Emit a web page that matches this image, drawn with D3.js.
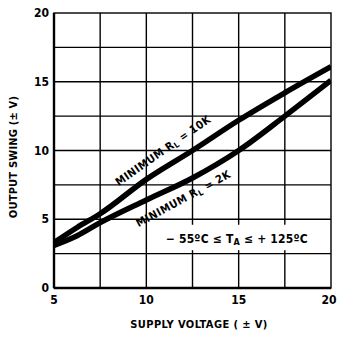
<!DOCTYPE html>
<html>
<head>
<meta charset="utf-8">
<script src="https://cdn.jsdelivr.net/npm/d3@7"></script>
<style>
  body { margin: 0; background: #fff; }
  svg text {
    font-family: "DejaVu Sans", sans-serif;
    font-stretch: condensed;
    font-weight: bold;
    fill: #000;
  }
</style>
</head>
<body>
<div id="chart"></div>
<script>

// data
var supplyV  = [5, 6.25, 7.5, 10, 12.5, 15, 17.5, 20];
var swing10K = [3.3, 4.4, 5.4, 7.9, 10.0, 12.2, 14.2, 16.1];
var swing2K  = [3.1, 3.8, 4.75, 6.4, 8.0, 10.0, 12.5, 15.1];

var xTicks = [5, 10, 15, 20];
var yTicks = [0, 5, 10, 15, 20];
var xGrid = [7.5, 10, 12.5, 15, 17.5];
var yGrid = [2.5, 5, 7.5, 10, 12.5, 15, 17.5];

var margin = { top: 13, right: 6, bottom: 49, left: 54 };
var width = 337 - margin.left - margin.right;
var height = 337 - margin.top - margin.bottom;

var svg = d3.select("#chart").append("svg")
    .attr("width", 337)
    .attr("height", 337);

var g = svg.append("g")
    .attr("transform", "translate(" + margin.left + "," + margin.top + ")");

var x = d3.scaleLinear().domain([5, 20]).range([0, width]);
var y = d3.scaleLinear().domain([0, 20]).range([height, 0]);

// grid
g.selectAll(".vgrid").data(xGrid).enter().append("line")
    .attr("x1", function(d) { return x(d); })
    .attr("x2", function(d) { return x(d); })
    .attr("y1", 0).attr("y2", height)
    .attr("stroke", "#000").attr("stroke-width", 1.4);

g.selectAll(".hgrid").data(yGrid).enter().append("line")
    .attr("x1", 0).attr("x2", width)
    .attr("y1", function(d) { return y(d); })
    .attr("y2", function(d) { return y(d); })
    .attr("stroke", "#000").attr("stroke-width", 1.4);

// white box behind the temperature note
g.append("rect")
    .attr("x", x(10.8)).attr("y", y(4.6))
    .attr("width", x(19.5) - x(10.8))
    .attr("height", y(2.75) - y(4.6))
    .attr("fill", "#fff");

// frame
g.append("rect")
    .attr("x", 0).attr("y", 0)
    .attr("width", width).attr("height", height)
    .attr("fill", "none").attr("stroke", "#000").attr("stroke-width", 1.4);

g.append("line").attr("x1", 0).attr("x2", 0).attr("y1", 0).attr("y2", height)
    .attr("stroke", "#000").attr("stroke-width", 2.4);
g.append("line").attr("x1", 0).attr("x2", width).attr("y1", height).attr("y2", height)
    .attr("stroke", "#000").attr("stroke-width", 2.4);

// curves
g.append("clipPath").attr("id", "clip")
    .append("rect").attr("width", width).attr("height", height);

var line = d3.line()
    .x(function(d) { return x(d[0]); })
    .y(function(d) { return y(d[1]); })
    .curve(d3.curveMonotoneX);

[swing10K, swing2K].forEach(function(s) {
    g.append("path")
        .datum(supplyV.map(function(v, i) { return [v, s[i]]; }))
        .attr("clip-path", "url(#clip)")
        .attr("d", line)
        .attr("fill", "none")
        .attr("stroke", "#000")
        .attr("stroke-width", 5.5);
});

// tick labels
g.selectAll(".xt").data(xTicks).enter().append("text")
    .attr("x", function(d) { return Math.min(x(d), width - 2); })
    .attr("y", height + 16)
    .attr("text-anchor", "middle")
    .style("font-size", "12px")
    .text(function(d) { return d; });

g.selectAll(".yt").data(yTicks).enter().append("text")
    .attr("x", -5)
    .attr("y", function(d) { return y(d) + 4; })
    .attr("text-anchor", "end")
    .style("font-size", "12px")
    .text(function(d) { return d; });

// axis titles
svg.append("text")
    .attr("x", 199).attr("y", 328)
    .attr("text-anchor", "middle")
    .style("font-size", "11px")
    .style("letter-spacing", "0.4px")
    .text("SUPPLY VOLTAGE ( \u00b1 V)");

svg.append("text")
    .attr("transform", "translate(17,157) rotate(-90)")
    .attr("text-anchor", "middle")
    .style("font-size", "11px")
    .style("letter-spacing", "0.2px")
    .text("OUTPUT SWING (\u00b1 V)");

// curve labels
function curveLabel(cx, cy, angle, value) {
    var t = g.append("text")
        .attr("transform", "translate(" + cx + "," + cy + ") rotate(" + angle + ")")
        .attr("text-anchor", "middle")
        .attr("dy", "0.35em")
        .style("font-size", "11px")
        .style("letter-spacing", "0.5px");
    t.append("tspan").text("MINIMUM R");
    t.append("tspan").attr("dy", 2).style("font-size", "8px").text("L");
    t.append("tspan").attr("dy", -2).text(" = " + value);
}

curveLabel(x(10.9), y(10.0), -35, "10K");
curveLabel(x(12.0), y(6.5), -28.5, "2K");

// temperature note
var note = g.append("text")
    .attr("x", x(14.9)).attr("y", y(3.3))
    .attr("text-anchor", "middle")
    .style("font-size", "12px")
    .style("letter-spacing", "0.2px");
note.append("tspan").text("\u2212 55\u00baC \u2264 T");
note.append("tspan").attr("dy", 2).style("font-size", "9px").text("A");
note.append("tspan").attr("dy", -2).text(" \u2264  + 125\u00baC");

</script>
</body>
</html>
